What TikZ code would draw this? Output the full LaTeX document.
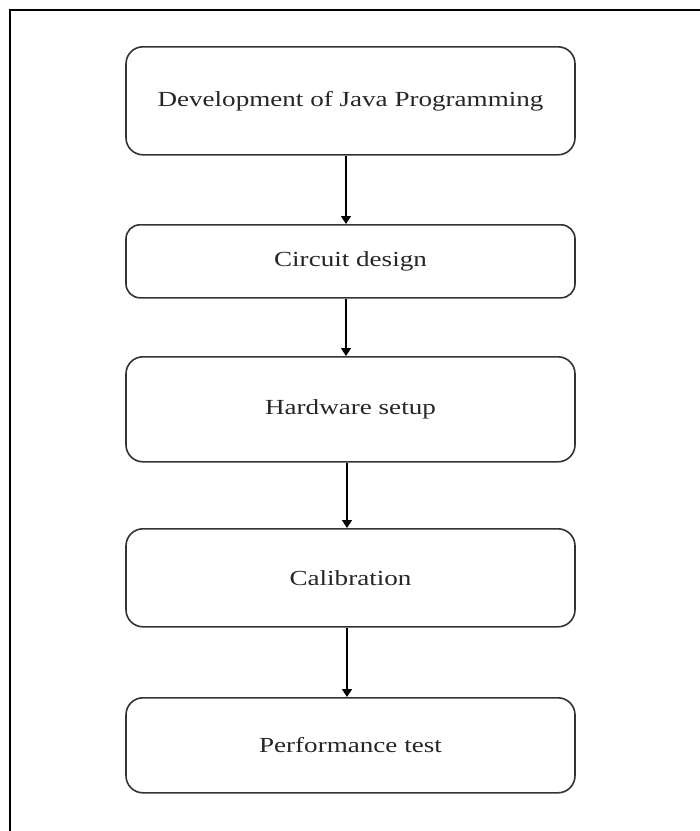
\documentclass[tikz,border=0pt]{standalone}
\usepackage{fontspec}
\setmainfont{Liberation Serif}[FakeStretch=1.26]
\usetikzlibrary{arrows.meta}
\begin{document}
\begin{tikzpicture}[x=1pt,y=-1pt,
  stepbox/.style={draw=black!80, line width=1.6pt, rounded corners=17pt,
    minimum width=449pt, inner sep=0pt, font=\fontsize{21.5}{24}\selectfont,
    text=black!85, anchor=north},
  flow/.style={line width=1.6pt, -{Triangle[width=10pt,length=8pt]}},
  frame/.style={line width=2pt}]
\useasboundingbox (0,0) rectangle (700,831);
\fill[white] (0,0) rectangle (700,831);
\coordinate (fb) at (10,831);
\coordinate (fc) at (10,10);
\coordinate (fr) at (700,10);
\draw[frame] (fb) -- (fc) -- (fr);
\node[stepbox, minimum height=108pt] (b1) at (350.5,46) {Development of Java Programming};
\node[stepbox, minimum height=73pt, rounded corners=14pt] (b2) at (350.5,224) {Circuit design};
\node[stepbox, minimum height=105pt] (b3) at (350.5,356) {Hardware setup};
\node[stepbox, minimum height=98pt] (b4) at (350.5,528) {Calibration};
\node[stepbox, minimum height=95pt] (b5) at (350.5,697) {Performance test};
\draw[flow] ([xshift=-4.5pt]b1.south) -- ([xshift=-4.5pt]b2.north);
\draw[flow] ([xshift=-4.5pt]b2.south) -- ([xshift=-4.5pt]b3.north);
\draw[flow] ([xshift=-3.5pt]b3.south) -- ([xshift=-3.5pt]b4.north);
\draw[flow] ([xshift=-3.5pt]b4.south) -- ([xshift=-3.5pt]b5.north);
\end{tikzpicture}
\end{document}
